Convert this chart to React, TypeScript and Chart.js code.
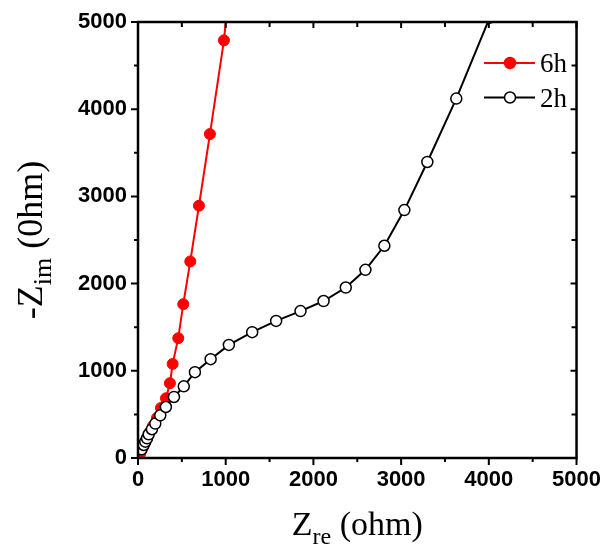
import { useEffect, useRef } from 'react';
import { Chart, registerables } from 'chart.js';

Chart.register(...registerables);

// ---- data ----
const seriesNames = ['6h', '2h'];

const zre6h = [23, 34, 57, 80, 103, 137, 171, 216, 262, 319, 364, 395, 459, 516, 596, 695, 820, 980, 1030];
const zim6h = [46, 80, 126, 172, 230, 299, 367, 459, 574, 685, 858, 1079, 1374, 1764, 2254, 2893, 3715, 4790, 5300];

const zre2h = [40, 65, 83, 103, 122, 159, 197, 254, 318, 410, 522, 649, 828, 1036, 1302, 1575, 1853, 2116, 2369, 2593, 2809, 3037, 3299, 3629, 4010];
const zim2h = [100, 149, 187, 226, 272, 330, 395, 490, 585, 700, 822, 984, 1133, 1297, 1443, 1572, 1685, 1800, 1955, 2158, 2434, 2843, 3395, 4122, 5050];

const axisMin = 0;
const axisMax = 5000;
const majorStep = 1000;
const minorStep = 500;

const xTitleParts = [{ t: 'Z', sub: false }, { t: 're', sub: true }, { t: ' (ohm)', sub: false }];
const yTitleParts = [{ t: '-Z', sub: false }, { t: 'im', sub: true }, { t: ' (0hm)', sub: false }];

const RED = '#ff0000';
const BLACK = '#000000';
const SERIF = '"Liberation Serif", "Times New Roman", serif';
const SANS = '"Liberation Sans", Arial, sans-serif';

function drawSubText(ctx: CanvasRenderingContext2D, parts: { t: string; sub: boolean }[], cx: number, baseY: number, size: number) {
  const subSize = Math.round(size * 0.72);
  let total = 0;
  const widths = parts.map((p) => {
    ctx.font = `${p.sub ? subSize : size}px ${SERIF}`;
    const w = ctx.measureText(p.t).width;
    total += w;
    return w;
  });
  let x = cx - total / 2;
  parts.forEach((p, i) => {
    ctx.font = `${p.sub ? subSize : size}px ${SERIF}`;
    ctx.fillText(p.t, x, baseY + (p.sub ? size * 0.25 : 0));
    x += widths[i];
  });
}

const framePlugin = {
  id: 'frameAndDecor',
  afterDraw(chart: any) {
    const { ctx, chartArea } = chart;
    const { left, right, top, bottom } = chartArea;
    const xs = chart.scales.x;
    const ys = chart.scales.y;
    ctx.save();
    ctx.strokeStyle = BLACK;
    ctx.lineWidth = 2.5;
    ctx.strokeRect(left, top, right - left, bottom - top);
    ctx.lineWidth = 2;
    ctx.beginPath();
    for (let v = axisMin; v <= axisMax; v += minorStep) {
      const major = v % majorStep === 0;
      const px = xs.getPixelForValue(v);
      const py = ys.getPixelForValue(v);
      const outL = major ? 7 : 4;
      const inL = major ? 6 : 5;
      ctx.moveTo(px, bottom);
      ctx.lineTo(px, bottom + outL);
      ctx.moveTo(px, top);
      ctx.lineTo(px, top + inL);
      ctx.moveTo(left, py);
      ctx.lineTo(left - outL, py);
      ctx.moveTo(right, py);
      ctx.lineTo(right - inL, py);
    }
    ctx.stroke();

    // axis titles
    ctx.fillStyle = BLACK;
    ctx.textBaseline = 'alphabetic';
    ctx.textAlign = 'left';
    drawSubText(ctx, xTitleParts, (left + right) / 2, 535, 34);
    ctx.save();
    ctx.translate(42, (top + bottom) / 2);
    ctx.rotate(-Math.PI / 2);
    drawSubText(ctx, yTitleParts, 0, 0, 36);
    ctx.restore();

    // legend
    const items = [
      { name: seriesNames[0], color: RED, fill: RED },
      { name: seriesNames[1], color: BLACK, fill: '#ffffff' },
    ];
    items.forEach((it, i) => {
      const ly = 63 + i * 34.5;
      ctx.strokeStyle = it.color;
      ctx.lineWidth = 2;
      ctx.beginPath();
      ctx.moveTo(484, ly);
      ctx.lineTo(535, ly);
      ctx.stroke();
      ctx.beginPath();
      ctx.arc(510, ly, 5.5, 0, Math.PI * 2);
      ctx.fillStyle = it.fill;
      ctx.fill();
      ctx.lineWidth = 1.5;
      ctx.stroke();
      ctx.fillStyle = BLACK;
      ctx.font = `27px ${SERIF}`;
      ctx.textBaseline = 'alphabetic';
      ctx.fillText(it.name, 540, ly + 9);
    });
    ctx.restore();
  },
};

export default function App() {
  const ref = useRef<HTMLCanvasElement | null>(null);
  useEffect(() => {
    document.body.style.margin = '0';
    const canvas = ref.current;
    if (!canvas) return;
    const tickFont = { family: SANS, size: 22, weight: 'bold' };
    const chart = new Chart(canvas, {
      type: 'line',
      data: {
        datasets: [
          {
            label: seriesNames[1],
            data: zre2h.map((x, i) => ({ x, y: zim2h[i] })),
            borderColor: BLACK,
            backgroundColor: '#ffffff',
            pointBackgroundColor: '#ffffff',
            pointBorderColor: BLACK,
            pointBorderWidth: 1.5,
            pointRadius: 5.5,
            borderWidth: 2,
            tension: 0,
            order: 0,
          },
          {
            label: seriesNames[0],
            data: zre6h.map((x, i) => ({ x, y: zim6h[i] })),
            borderColor: RED,
            backgroundColor: RED,
            pointBackgroundColor: RED,
            pointBorderColor: RED,
            pointBorderWidth: 1,
            pointRadius: 5.5,
            borderWidth: 2,
            tension: 0,
            order: 1,
          },
        ],
      },
      options: {
        responsive: false,
        animation: false,
        layout: { padding: { left: 0, right: 26, top: 22, bottom: 0 } },
        plugins: { legend: { display: false }, tooltip: { enabled: false } },
        scales: {
          x: {
            type: 'linear',
            min: axisMin,
            max: axisMax,
            border: { display: false },
            grid: { display: true, drawOnChartArea: false, tickLength: 7, tickColor: 'rgba(0,0,0,0)' },
            ticks: {
              stepSize: majorStep,
              padding: 2,
              color: BLACK,
              font: tickFont,
              maxRotation: 0,
              callback: (v: any) => String(v),
            },
            afterFit: (s: any) => {
              s.height = 89;
            },
          },
          y: {
            type: 'linear',
            min: axisMin,
            max: axisMax,
            border: { display: false },
            grid: { display: true, drawOnChartArea: false, tickLength: 7, tickColor: 'rgba(0,0,0,0)' },
            ticks: {
              stepSize: majorStep,
              padding: 4,
              color: BLACK,
              font: tickFont,
              callback: (v: any) => String(v),
            },
            afterFit: (s: any) => {
              s.width = 138;
            },
          },
        },
      },
      plugins: [framePlugin],
    } as any);
    return () => chart.destroy();
  }, []);
  return <canvas ref={ref} width={603} height={547} style={{ display: 'block' }} />;
}
